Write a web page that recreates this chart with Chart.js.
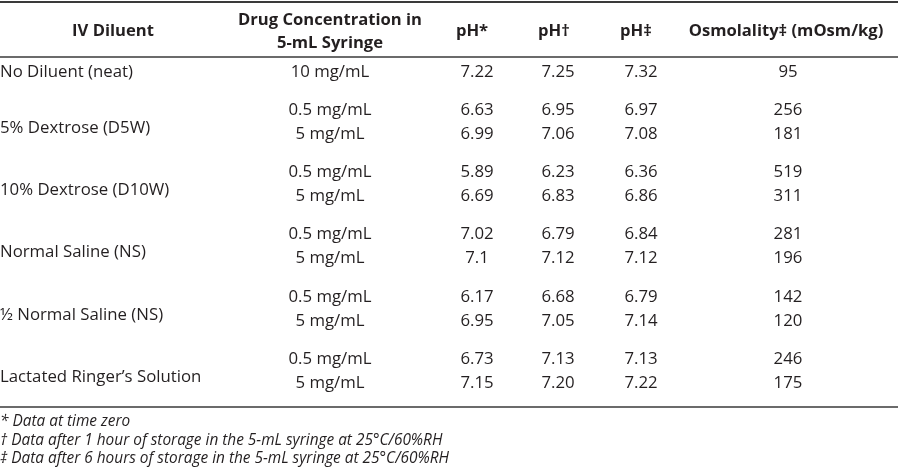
<!DOCTYPE html>
<html>
<head>
<meta charset="utf-8">
<script src="https://cdn.jsdelivr.net/npm/chart.js@4.4.1/dist/chart.umd.min.js"></script>
<style>
  html, body { margin: 0; padding: 0; background: #fff; }
  #wrap { width: 900px; height: 469px; position: relative; }
</style>
</head>
<body>
<div id="wrap"><canvas id="table"></canvas></div>
<script>
// table content
const headers = ["IV Diluent", ["Drug Concentration in", "5-mL Syringe"], "pH*", "pH\u2020", "pH\u2021", "Osmolality\u2021 (mOsm/kg)"];
const diluents = [
    "No Diluent (neat)",
    "5% Dextrose (D5W)",
    "10% Dextrose (D10W)",
    "Normal Saline (NS)",
    "\u00BD Normal Saline (NS)",
    "Lactated Ringer\u2019s Solution",
];
const concentrations = [
    ["10 mg/mL"],
    ["0.5 mg/mL", "5 mg/mL"],
    ["0.5 mg/mL", "5 mg/mL"],
    ["0.5 mg/mL", "5 mg/mL"],
    ["0.5 mg/mL", "5 mg/mL"],
    ["0.5 mg/mL", "5 mg/mL"],
];
const phZero = ["7.22", "6.63", "6.99", "5.89", "6.69", "7.02", "7.1", "6.17", "6.95", "6.73", "7.15"];
const phOneHour = ["7.25", "6.95", "7.06", "6.23", "6.83", "6.79", "7.12", "6.68", "7.05", "7.13", "7.20"];
const phSixHours = ["7.32", "6.97", "7.08", "6.36", "6.86", "6.84", "7.12", "6.79", "7.14", "7.13", "7.22"];
const osmolality = ["95", "256", "181", "519", "311", "281", "196", "142", "120", "246", "175"];
const footnotes = [
    "* Data at time zero",
    "\u2020 Data after 1 hour of storage in the 5-mL syringe at 25\u00B0C/60%RH",
    "\u2021 Data after 6 hours of storage in the 5-mL syringe at 25\u00B0C/60%RH",
];

// layout (scale units = pixels of the 900x469 picture)
const colX = [0, 330, 477, 558, 641, 788];
const headX = [113, 330, 472, 554, 636, 786];
const rules = [2, 57, 407];
const FONT = "'Open Sans', 'Noto Sans', sans-serif";
const INK = "#231f20";

// baselines of each value line and each diluent label
const lineY = [];
const labelY = [];
diluents.forEach((d, g) => {
    if (g === 0) {
        lineY.push(77);
        labelY.push(77);
    } else {
        const first = 115 + 62.2 * (g - 1);
        lineY.push(first, first + 24);
        labelY.push(first + 18);
    }
});

const cell = (x, ys, texts, opts) => ({
    data: ys.map((y) => ({ x: x, y: y })),
    texts: texts,
    align: opts.align || "center",
    font: opts.font,
    pointRadius: 0,
    showLine: false,
});

const bodyFont = "16.8px " + FONT;
const headFont = "bold 16.6px " + FONT;
const noteFont = "italic 15.4px " + FONT;

const datasets = [
    cell(colX[0], labelY, diluents, { align: "left", font: bodyFont }),
    cell(colX[1], lineY, concentrations.flat(), { font: bodyFont }),
    cell(colX[2], lineY, phZero, { font: bodyFont }),
    cell(colX[3], lineY, phOneHour, { font: bodyFont }),
    cell(colX[4], lineY, phSixHours, { font: bodyFont }),
    cell(colX[5], lineY, osmolality, { font: bodyFont }),
    cell(headX[0], [36], [headers[0]], { font: headFont }),
    cell(headX[1], [25, 48], headers[1], { font: headFont }),
    cell(headX[2], [36], [headers[2]], { font: headFont }),
    cell(headX[3], [36], [headers[3]], { font: headFont }),
    cell(headX[4], [36], [headers[4]], { font: headFont }),
    cell(headX[5], [36], [headers[5]], { font: headFont }),
    cell(0, [426, 444.5, 463], footnotes, { align: "left", font: noteFont }),
];

const tablePlugin = {
    id: "tableText",
    afterDatasetsDraw(chart) {
        const ctx = chart.ctx;
        const { x, y } = chart.scales;
        ctx.save();
        ctx.strokeStyle = "#3a3a3a";
        rules.forEach((r, i) => {
            ctx.lineWidth = i === 0 ? 2 : 1.5;
            ctx.beginPath();
            ctx.moveTo(x.getPixelForValue(0), y.getPixelForValue(r));
            ctx.lineTo(x.getPixelForValue(898), y.getPixelForValue(r));
            ctx.stroke();
        });
        ctx.fillStyle = INK;
        ctx.textBaseline = "alphabetic";
        chart.data.datasets.forEach((ds, i) => {
            const meta = chart.getDatasetMeta(i);
            ctx.font = ds.font;
            ctx.textAlign = ds.align;
            meta.data.forEach((pt, j) => {
                ctx.fillText(ds.texts[j], pt.x, pt.y);
            });
        });
        ctx.restore();
    },
};

new Chart(document.getElementById("table"), {
    type: "scatter",
    data: { datasets: datasets },
    options: {
        responsive: true,
        maintainAspectRatio: false,
        animation: false,
        layout: { padding: 0 },
        scales: {
            x: { type: "linear", min: 0, max: 900, display: false },
            y: { type: "linear", min: 0, max: 469, reverse: true, display: false },
        },
        plugins: {
            legend: { display: false },
            tooltip: { enabled: false },
        },
    },
    plugins: [tablePlugin],
});
</script>
</body>
</html>
